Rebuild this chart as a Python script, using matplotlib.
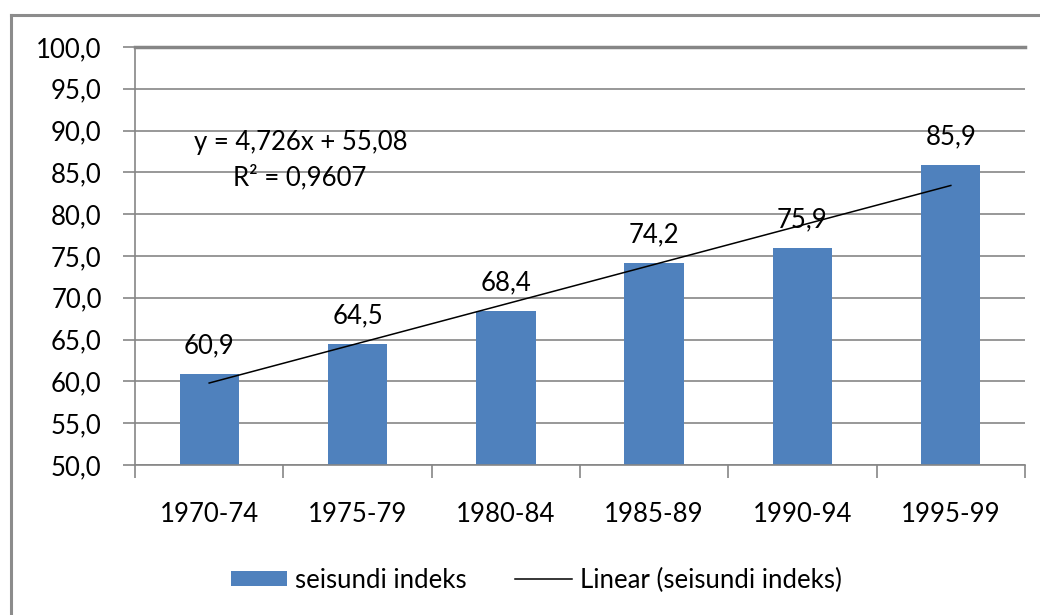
import matplotlib.pyplot as plt
from matplotlib.patches import Patch
from matplotlib.lines import Line2D

# Data
periods = ['1970-74', '1975-79', '1980-84', '1985-89', '1990-94', '1995-99']
index_values = [60.9, 64.5, 68.4, 74.2, 75.9, 85.9]
y_ticks = [50, 55, 60, 65, 70, 75, 80, 85, 90, 95, 100]

# Linear trend (Excel trendline)
slope = 4.726
intercept = 55.08
equation_text = 'y = 4,726x + 55,08'
r2_text = 'R² = 0,9607'

bar_color = '#4F81BD'
grid_color = '#868686'
fs = 18.5

plt.rcParams['font.family'] = ['Lato', 'DejaVu Sans']

fig = plt.figure(figsize=(10.4, 6.15), dpi=100)
ax = fig.add_axes([135 / 1040, 1 - 465 / 615, 890 / 1040, 418 / 615])

x = list(range(len(periods)))
ax.bar(x, index_values, width=0.4, color=bar_color, zorder=2)

# value labels
for xi, v in zip(x, index_values):
    ax.annotate(f'{v:.1f}'.replace('.', ','), (xi, v), xytext=(0, 15),
                textcoords='offset points', ha='center', va='baseline',
                fontsize=fs, color='black', zorder=4)

# trend line
trend_x = [x[0], x[-1]]
trend_y = [slope * (i + 1) + intercept for i in trend_x]
ax.plot(trend_x, trend_y, color='black', linewidth=1.1, zorder=3)

# equation
fig.text(301 / 1040, 1 - 142 / 615, equation_text, ha='center', va='center', fontsize=fs)
fig.text(300 / 1040, 1 - 177 / 615, r2_text, ha='center', va='center', fontsize=fs)

# axes
ax.set_xlim(-0.5, len(periods) - 0.5)
ax.set_ylim(50, 100)
ax.set_yticks(y_ticks)
ax.set_yticklabels([f'{v:.1f}'.replace('.', ',') for v in y_ticks], fontsize=fs)
ax.set_xticks(x)
ax.set_xticklabels(periods, fontsize=fs)
ax.set_xticks([i - 0.5 for i in range(len(periods) + 1)], minor=True)
ax.tick_params(axis='x', which='major', length=0, pad=27)
ax.tick_params(axis='x', which='minor', length=9, color=grid_color, width=1.2)
ax.tick_params(axis='y', length=9, color=grid_color, width=1.2, pad=15)

ax.grid(axis='y', color=grid_color, linewidth=1.2, zorder=0)
ax.set_axisbelow(True)
for side in ['left', 'bottom']:
    ax.spines[side].set_color(grid_color)
    ax.spines[side].set_linewidth(1.2)
ax.spines['top'].set_color(grid_color)
ax.spines['top'].set_linewidth(2.5)
ax.spines['right'].set_visible(False)

# legend
handles = [Patch(facecolor=bar_color, edgecolor='none'),
           Line2D([], [], color='black', linewidth=1.1)]
fig.legend(handles, ['seisundi indeks', 'Linear (seisundi indeks)'],
           loc='center', bbox_to_anchor=(536 / 1040, 1 - 580 / 615),
           ncol=2, frameon=False, fontsize=fs, handlelength=2.2,
           handleheight=0.5, handletextpad=0.3, columnspacing=1.9)

# outer chart frame (left and top edges visible)
frame_color = '#8c8c8c'
fig.add_artist(Line2D([11 / 1040, 11 / 1040], [0, 1 - 15 / 615], color=frame_color,
                      linewidth=2.2, transform=fig.transFigure))
fig.add_artist(Line2D([11 / 1040, 1], [1 - 15 / 615, 1 - 15 / 615], color=frame_color,
                      linewidth=2.2, transform=fig.transFigure))

fig.savefig('out.png', dpi=100)
